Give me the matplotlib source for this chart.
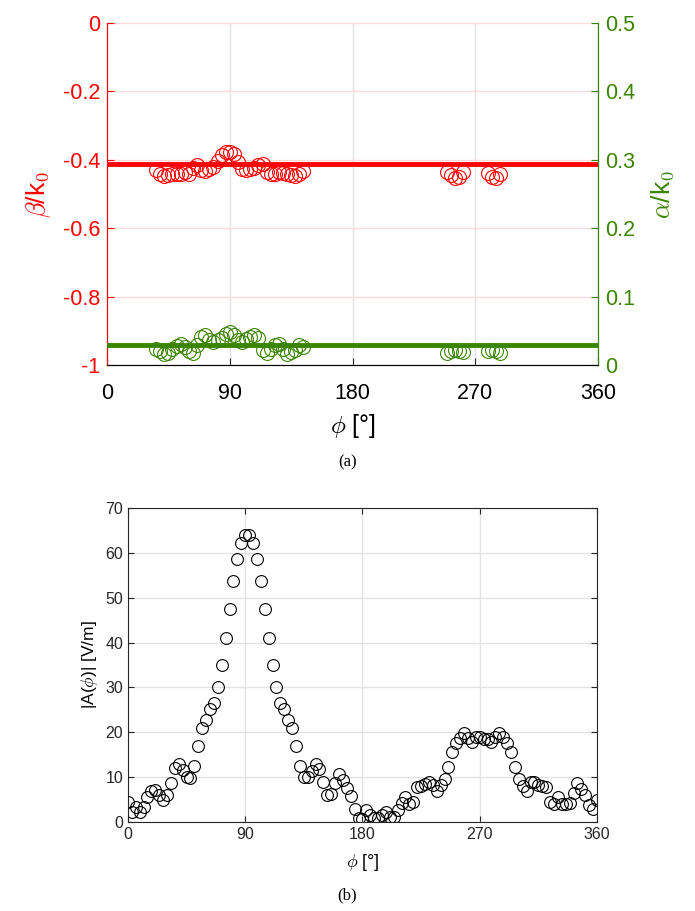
import matplotlib
matplotlib.use("Agg")
import matplotlib.pyplot as plt

plt.rcParams.update({
    "font.family": ["Liberation Sans", "DejaVu Sans"],
    "mathtext.fontset": "cm",
    "xtick.direction": "in",
    "ytick.direction": "in",
})

RED = "#ff0000"
GREEN = "#3a8500"

# ---- panel (a): beta/k0 and alpha/k0 vs phi
phi_top = [36, 39, 42, 45, 48, 51, 54, 57, 60, 63, 66, 69, 72, 75, 78, 81, 84, 87, 90,
           93, 96, 99, 102, 105, 108, 111, 114, 117, 120, 123, 126, 129, 132, 135, 138, 141, 144,
           249, 252, 255, 258, 261, 279, 282, 285, 288]
beta = [-0.430, -0.442, -0.447, -0.445, -0.440, -0.442, -0.440, -0.435, -0.440, -0.425,
        -0.415, -0.430, -0.432, -0.428, -0.420, -0.403, -0.385, -0.378, -0.376, -0.383,
        -0.405, -0.428, -0.430, -0.428, -0.425, -0.415, -0.412, -0.435, -0.440, -0.440,
        -0.435, -0.438, -0.440, -0.445, -0.448, -0.440, -0.432,
        -0.435, -0.445, -0.452, -0.450, -0.437, -0.438, -0.450, -0.452, -0.440]
alpha = [0.024, 0.020, 0.016, 0.018, 0.024, 0.028, 0.031, 0.027, 0.021, 0.018,
         0.030, 0.041, 0.044, 0.037, 0.034, 0.036, 0.040, 0.046, 0.049, 0.044,
         0.036, 0.034, 0.038, 0.041, 0.044, 0.040, 0.022, 0.017, 0.024, 0.030,
         0.031, 0.023, 0.016, 0.019, 0.022, 0.029, 0.027,
         0.018, 0.021, 0.022, 0.021, 0.019, 0.020, 0.022, 0.021, 0.018]
beta_mean = -0.413
alpha_mean = 0.03

# ---- panel (b): |A(phi)| samples every 3 degrees
phi = list(range(0, 361, 3))
amp = [4.4, 2.3, 3.4, 2.3, 3.4, 5.6, 6.9, 7.1, 6.0, 4.9,
       6.0, 8.8, 12.0, 12.9, 11.6, 10.1, 9.9, 12.5, 16.9, 20.9,
       22.7, 25.1, 26.5, 30.0, 35.1, 41.1, 47.5, 53.7, 58.6, 62.1,
       64.0, 64.0, 62.1, 58.6, 53.7, 47.5, 41.1, 35.1, 30.0, 26.5,
       25.1, 22.7, 20.9, 16.9, 12.5, 10.1, 10.0, 11.4, 12.9, 11.8,
       9.0, 6.0, 6.2, 8.6, 10.8, 9.4, 7.5, 5.8, 2.8, 1.0,
       0.7, 2.7, 1.6, 1.0, 0.8, 1.5, 2.3, 1.2, 1.2, 2.7,
       4.3, 5.6, 4.0, 4.5, 7.7, 8.0, 8.4, 9.0, 8.2, 6.9,
       8.2, 9.6, 12.3, 15.5, 17.5, 18.7, 19.8, 18.8, 17.9, 18.9,
       18.9, 18.4, 18.4, 17.9, 19.0, 19.8, 18.9, 17.7, 15.7, 12.3,
       9.5, 8.0, 6.9, 9.0, 9.0, 8.2, 8.0, 7.9, 4.5, 4.0,
       5.6, 4.0, 4.0, 4.3, 6.5, 8.6, 7.3, 6.0, 3.8, 3.0, 4.9]

xticks = [0, 90, 180, 270, 360]

fig = plt.figure(figsize=(6.95, 9.11), dpi=100)

# top panel
ax1 = fig.add_axes([0.154, 0.5993, 0.7065, 0.3754])
ax1.set_xlim(0, 360)
ax1.set_ylim(-1, 0)
ax1.set_xticks(xticks)
ax1.set_yticks([-1, -0.8, -0.6, -0.4, -0.2, 0])
ax1.set_yticklabels(["-1", "-0.8", "-0.6", "-0.4", "-0.2", "0"])
ax1.grid(axis="x", color="#e3e3e3", linewidth=1)
ax1.grid(axis="y", color="#ffdada", linewidth=1)
ax1.set_axisbelow(True)
ax1.axhline(beta_mean, color=RED, linewidth=3.5, zorder=3)
ax1.plot(phi_top, beta, "o", mfc="none", mec=RED, ms=10, mew=0.8, zorder=4)
ax1.tick_params(axis="y", colors=RED, labelsize=15.5, length=5, pad=5)
ax1.tick_params(axis="x", colors="#262626", labelsize=15.5, length=5, pad=13)
for lab in ax1.get_xticklabels():
    lab.set_color("black")
ax1.set_ylabel(r"$\beta$/k$_0$", color=RED, fontsize=19, labelpad=7)
ax1.set_xlabel(r"$\phi$ [°]", fontsize=18, labelpad=6)
ax1.spines["left"].set_color(RED)
ax1.spines["right"].set_color(GREEN)
ax1.spines["bottom"].set_color("#262626")
ax1.spines["top"].set_visible(False)

ax2 = ax1.twinx()
ax2.set_ylim(0, 0.5)
ax2.set_yticks([0, 0.1, 0.2, 0.3, 0.4, 0.5])
ax2.set_yticklabels(["0", "0.1", "0.2", "0.3", "0.4", "0.5"])
ax2.axhline(alpha_mean, color=GREEN, linewidth=3.5, zorder=3)
ax2.plot(phi_top, alpha, "o", mfc="none", mec=GREEN, ms=10, mew=0.8, zorder=4)
ax2.tick_params(axis="y", colors=GREEN, labelsize=15.5, length=5, pad=5)
ax2.set_ylabel(r"$\alpha$/k$_0$", color=GREEN, fontsize=19, rotation=90, labelpad=10)
ax2.spines["left"].set_color(RED)
ax2.spines["right"].set_color(GREEN)
ax2.spines["top"].set_visible(False)

fig.text(0.5, 0.492, "(a)", ha="center", va="center",
         fontsize=12, family=["Liberation Serif", "DejaVu Serif"])

# bottom panel
ax3 = fig.add_axes([0.184, 0.0977, 0.675, 0.3447])
ax3.plot(phi, amp, "o", mfc="none", mec="black", ms=8.5, mew=0.8)
ax3.set_xlim(0, 360)
ax3.set_ylim(0, 70)
ax3.set_xticks(xticks)
ax3.set_yticks(range(0, 71, 10))
ax3.grid(color="#e3e3e3", linewidth=1)
ax3.set_axisbelow(True)
ax3.tick_params(colors="#262626", labelsize=11.5, length=4, top=True, right=True)
for s in ax3.spines.values():
    s.set_color("#262626")
ax3.set_xlabel(r"$\phi$ [°]", fontsize=13, labelpad=7)
ax3.set_ylabel(r"|A($\phi$)| [V/m]", fontsize=12.5, labelpad=4)

fig.text(0.5, 0.017, "(b)", ha="center", va="center",
         fontsize=12, family=["Liberation Serif", "DejaVu Serif"])

fig.savefig("out.png", dpi=100)
